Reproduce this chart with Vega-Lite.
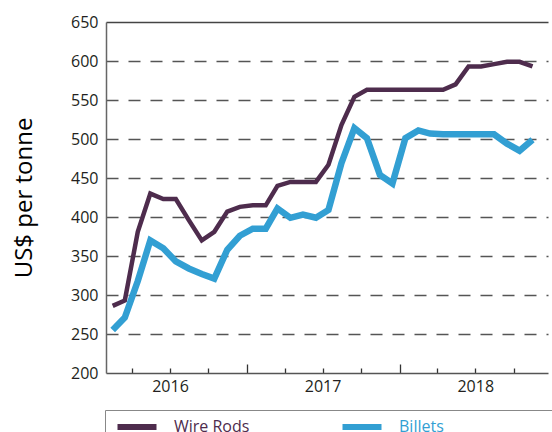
{
  "$schema": "https://vega.github.io/schema/vega-lite/v6.json",
  "width": 442,
  "height": 351,
  "autosize": "none",
  "padding": {"left": 106, "top": 22, "right": 4, "bottom": 59},
  "background": "white",
  "config": {
    "view": {"stroke": null},
    "font": "Open Sans"
  },
  "data": {
    "values": [
      {"date": "2016-02-15", "series": "Wire Rods", "value": 286},
      {"date": "2016-03-15", "series": "Wire Rods", "value": 293},
      {"date": "2016-04-15", "series": "Wire Rods", "value": 381},
      {"date": "2016-05-15", "series": "Wire Rods", "value": 430},
      {"date": "2016-06-15", "series": "Wire Rods", "value": 423},
      {"date": "2016-07-15", "series": "Wire Rods", "value": 423},
      {"date": "2016-08-15", "series": "Wire Rods", "value": 396},
      {"date": "2016-09-15", "series": "Wire Rods", "value": 370},
      {"date": "2016-10-15", "series": "Wire Rods", "value": 381},
      {"date": "2016-11-15", "series": "Wire Rods", "value": 407},
      {"date": "2016-12-15", "series": "Wire Rods", "value": 413},
      {"date": "2017-01-15", "series": "Wire Rods", "value": 415},
      {"date": "2017-02-15", "series": "Wire Rods", "value": 415},
      {"date": "2017-03-15", "series": "Wire Rods", "value": 440},
      {"date": "2017-04-15", "series": "Wire Rods", "value": 445},
      {"date": "2017-05-15", "series": "Wire Rods", "value": 445},
      {"date": "2017-06-15", "series": "Wire Rods", "value": 445},
      {"date": "2017-07-15", "series": "Wire Rods", "value": 467},
      {"date": "2017-08-15", "series": "Wire Rods", "value": 518},
      {"date": "2017-09-15", "series": "Wire Rods", "value": 554},
      {"date": "2017-10-15", "series": "Wire Rods", "value": 563},
      {"date": "2017-11-15", "series": "Wire Rods", "value": 563},
      {"date": "2017-12-15", "series": "Wire Rods", "value": 563},
      {"date": "2018-01-15", "series": "Wire Rods", "value": 563},
      {"date": "2018-02-15", "series": "Wire Rods", "value": 563},
      {"date": "2018-03-15", "series": "Wire Rods", "value": 563},
      {"date": "2018-04-15", "series": "Wire Rods", "value": 563},
      {"date": "2018-05-15", "series": "Wire Rods", "value": 570},
      {"date": "2018-06-15", "series": "Wire Rods", "value": 593},
      {"date": "2018-07-15", "series": "Wire Rods", "value": 593},
      {"date": "2018-08-15", "series": "Wire Rods", "value": 596},
      {"date": "2018-09-15", "series": "Wire Rods", "value": 599},
      {"date": "2018-10-15", "series": "Wire Rods", "value": 599},
      {"date": "2018-11-15", "series": "Wire Rods", "value": 593},
      {"date": "2016-02-15", "series": "Billets", "value": 255},
      {"date": "2016-03-15", "series": "Billets", "value": 271},
      {"date": "2016-04-15", "series": "Billets", "value": 318},
      {"date": "2016-05-15", "series": "Billets", "value": 370},
      {"date": "2016-06-15", "series": "Billets", "value": 360},
      {"date": "2016-07-15", "series": "Billets", "value": 343},
      {"date": "2016-08-15", "series": "Billets", "value": 334},
      {"date": "2016-09-15", "series": "Billets", "value": 327},
      {"date": "2016-10-15", "series": "Billets", "value": 321},
      {"date": "2016-11-15", "series": "Billets", "value": 358},
      {"date": "2016-12-15", "series": "Billets", "value": 376},
      {"date": "2017-01-15", "series": "Billets", "value": 385},
      {"date": "2017-02-15", "series": "Billets", "value": 385},
      {"date": "2017-03-15", "series": "Billets", "value": 411},
      {"date": "2017-04-15", "series": "Billets", "value": 399},
      {"date": "2017-05-15", "series": "Billets", "value": 403},
      {"date": "2017-06-15", "series": "Billets", "value": 399},
      {"date": "2017-07-15", "series": "Billets", "value": 409},
      {"date": "2017-08-15", "series": "Billets", "value": 469},
      {"date": "2017-09-15", "series": "Billets", "value": 514},
      {"date": "2017-10-15", "series": "Billets", "value": 501},
      {"date": "2017-11-15", "series": "Billets", "value": 454},
      {"date": "2017-12-15", "series": "Billets", "value": 443},
      {"date": "2018-01-15", "series": "Billets", "value": 501},
      {"date": "2018-02-15", "series": "Billets", "value": 511},
      {"date": "2018-03-15", "series": "Billets", "value": 507},
      {"date": "2018-04-15", "series": "Billets", "value": 506},
      {"date": "2018-05-15", "series": "Billets", "value": 506},
      {"date": "2018-06-15", "series": "Billets", "value": 506},
      {"date": "2018-07-15", "series": "Billets", "value": 506},
      {"date": "2018-08-15", "series": "Billets", "value": 506},
      {"date": "2018-09-15", "series": "Billets", "value": 494},
      {"date": "2018-10-15", "series": "Billets", "value": 485},
      {"date": "2018-11-15", "series": "Billets", "value": 499}
    ]
  },
  "mark": {"type": "line", "strokeJoin": "miter", "strokeCap": "butt"},
  "encoding": {
    "x": {
      "field": "date",
      "type": "temporal",
      "scale": {"domain": [{"year": 2016, "month": 1, "date": 30}, {"year": 2018, "month": 12, "date": 22}]},
      "axis": {
        "title": null,
        "values": [
          {"year": 2016, "month": 4, "date": 1}, {"year": 2016, "month": 7, "date": 1}, {"year": 2016, "month": 10, "date": 1},
          {"year": 2017, "month": 1, "date": 1}, {"year": 2017, "month": 4, "date": 1}, {"year": 2017, "month": 7, "date": 1}, {"year": 2017, "month": 10, "date": 1},
          {"year": 2018, "month": 1, "date": 1}, {"year": 2018, "month": 4, "date": 1}, {"year": 2018, "month": 7, "date": 1}, {"year": 2018, "month": 10, "date": 1}
        ],
        "labelExpr": "month(datum.value) == 6 ? timeFormat(datum.value, '%Y') : ''",
        "labelFontSize": 16,
        "labelColor": "#231f20",
        "labelPadding": 10,
        "labelFlush": false,
        "labelOverlap": false,
        "grid": false,
        "domainColor": "#555555",
        "domainWidth": 1.5,
        "tickColor": "#333333",
        "tickWidth": 1.3,
        "tickSize": {"condition": {"test": "month(datum.value) == 0", "value": -9}, "value": -5}
      }
    },
    "y": {
      "field": "value",
      "type": "quantitative",
      "scale": {"domain": [200, 650], "nice": false, "zero": false},
      "axis": {
        "title": "US$ per tonne",
        "titleFontSize": 24,
        "titleFontWeight": "normal",
        "titleColor": "#000000",
        "titlePadding": 34,
        "values": [200, 250, 300, 350, 400, 450, 500, 550, 600, 650],
        "labelFontSize": 16,
        "labelColor": "#231f20",
        "labelPadding": 8,
        "ticks": false,
        "domainColor": "#666666",
        "domainWidth": 1.5,
        "grid": true,
        "gridColor": {"condition": {"test": "datum.value == 650", "value": "#444444"}, "value": "#555555"},
        "gridWidth": 1.3,
        "gridDash": {"condition": {"test": "datum.value == 650 || datum.value == 200", "value": []}, "value": [12, 10]},
        "gridOpacity": {"condition": {"test": "datum.value == 200", "value": 0}, "value": 1}
      }
    },
    "color": {
      "field": "series",
      "type": "nominal",
      "sort": ["Wire Rods", "Billets", " "],
      "scale": {"domain": ["Wire Rods", "Billets", " "], "range": ["#4e2c4d", "#329fd3", "rgba(0,0,0,0)"]},
      "legend": {
        "title": null,
        "orient": "none",
        "legendX": -1,
        "legendY": 388,
        "direction": "horizontal",
        "symbolType": "M-3.9,0H3.9",
        "symbolSize": 100,
        "symbolStrokeWidth": 6,
        "symbolOffset": 15,
        "labelOffset": 29,
        "labelFontSize": 16,
        "columnPadding": 80,
        "padding": 9,
        "strokeColor": "#888888",
        "fillColor": "white",
        "encode": {
          "labels": {"update": {"fill": {"scale": "color", "field": "value"}}}
        }
      }
    },
    "strokeWidth": {
      "field": "series",
      "type": "nominal",
      "scale": {"domain": ["Wire Rods", "Billets"], "range": [4.5, 6.5]},
      "legend": null
    }
  }
}
